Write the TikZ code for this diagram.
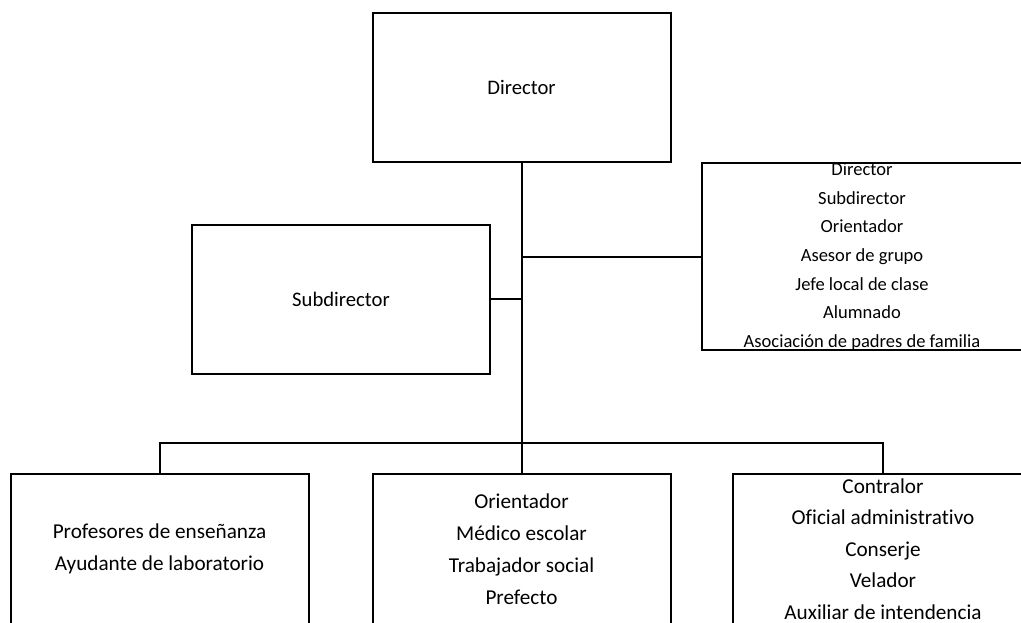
\documentclass[tikz,border=0pt]{standalone}
\usepackage{fontspec}
\setmainfont[Ligatures={NoCommon}]{Carlito}
\usepackage{tikz}

\begin{document}
\begin{tikzpicture}[x=0.75pt, y=-0.75pt, line width=1.5pt,
    box/.style={draw=black, rectangle, inner sep=0pt, align=center,
        minimum width=223.5pt, minimum height=111.75pt,
        font=\fontsize{15.5}{24}\selectfont},
    sidebox/.style={box, minimum width=240pt, minimum height=140.25pt,
        font=\fontsize{13.9}{21.5}\selectfont},
    lowbox/.style={box, minimum height=112.5pt,
        font=\fontsize{15.9}{24}\selectfont}]
    \clip (0, 0) rectangle (1021, 622);
    \node[box] (director) at (521.5, 87.5) {Director};
    \node[box] (subdir) at (341, 299) {Subdirector};
    \node[sidebox] (consejo) at (862, 256.5) {Director\\Subdirector\\Orientador\\Asesor de grupo\\Jefe local de clase\\Alumnado\\Asociación de padres de familia};
    \node[lowbox] (docentes) at (159.5, 549) {Profesores de enseñanza\\Ayudante de laboratorio};
    \node[lowbox] (apoyo) at (521.5, 549) {Orientador\\Médico escolar\\Trabajador social\\Prefecto};
    \node[lowbox, minimum width=225pt, font=\fontsize{15.9}{23.6}\selectfont] (admin) at (883, 549) {Contralor\\Oficial administrativo\\Conserje\\Velador\\Auxiliar de intendencia};
    \coordinate (bus) at (521.5, 443);
    \draw (director.south) -- (bus);
    \draw (director.south |- consejo.west) -- (consejo.west);
    \draw (subdir.east) -- (subdir.east -| director.south);
    \draw (docentes.north) |- (bus) -| (admin.north);
    \draw (bus) -- (apoyo.north);
\end{tikzpicture}
\end{document}
